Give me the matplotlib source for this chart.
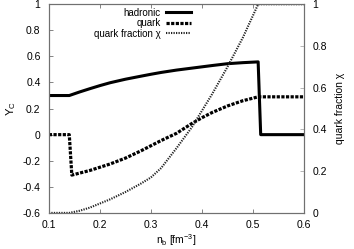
import matplotlib
matplotlib.use('Agg')
import matplotlib.pyplot as plt

plt.rcParams['font.family'] = ['Liberation Sans', 'DejaVu Sans']
plt.rcParams['mathtext.default'] = 'regular'

# hadronic Y_C (left axis)
had_nb = [0.1, 0.14, 0.16, 0.18, 0.2, 0.22, 0.25, 0.28, 0.3, 0.32, 0.35, 0.38,
          0.4, 0.42, 0.45, 0.48, 0.5, 0.51, 0.515, 0.6]
had_yc = [0.3, 0.3, 0.327, 0.352, 0.376, 0.398, 0.425, 0.448, 0.463, 0.477, 0.495,
          0.51, 0.52, 0.53, 0.544, 0.552, 0.556, 0.558, 0.0, 0.0]

# quark Y_C (left axis)
qrk_nb = [0.1, 0.14, 0.145, 0.16, 0.18, 0.2, 0.22, 0.25, 0.28, 0.3, 0.32, 0.35,
          0.38, 0.4, 0.42, 0.45, 0.48, 0.5, 0.51, 0.6]
qrk_yc = [0.0, 0.0, -0.31, -0.295, -0.275, -0.25, -0.225, -0.18, -0.125, -0.085,
          -0.045, 0.01, 0.085, 0.13, 0.17, 0.22, 0.26, 0.28, 0.29, 0.29]

# quark fraction chi (right axis)
chi_nb = [0.1, 0.14, 0.16, 0.18, 0.2, 0.22, 0.25, 0.28, 0.3, 0.32, 0.35, 0.38,
          0.4, 0.42, 0.45, 0.48, 0.51, 0.6]
chi_val = [0.0, 0.0, 0.01, 0.025, 0.045, 0.065, 0.1, 0.14, 0.17, 0.215, 0.31, 0.41,
           0.49, 0.57, 0.7, 0.84, 1.0, 1.0]

xticks = [0.1, 0.2, 0.3, 0.4, 0.5, 0.6]
yticks_left = [-0.6, -0.4, -0.2, 0, 0.2, 0.4, 0.6, 0.8, 1]
yticks_right = [0, 0.2, 0.4, 0.6, 0.8, 1]

axcol = '#707070'

fig = plt.figure(figsize=(3.54, 2.49), dpi=100)
ax = fig.add_axes([0.138, 0.145, 0.721, 0.838])
ax2 = ax.twinx()

l1, = ax.plot(had_nb, had_yc, color='black', lw=2.2, label='hadronic')
l2, = ax.plot(qrk_nb, qrk_yc, color='black', lw=2.3, linestyle=(0, (1.0, 0.45)),
              label='quark')
l3, = ax2.plot(chi_nb, chi_val, color='#222222', lw=1.5, linestyle=(0, (0.6, 0.6)),
               label='quark fraction χ')

ax.set_xlim(0.1, 0.6)
ax.set_ylim(-0.6, 1)
ax2.set_ylim(0, 1)
ax.set_xticks(xticks)
ax.set_xticklabels(['0.1', '0.2', '0.3', '0.4', '0.5', '0.6'])
ax.set_yticks(yticks_left)
ax.set_yticklabels(['-0.6', '-0.4', '-0.2', '0', '0.2', '0.4', '0.6', '0.8', '1'])
ax2.set_yticks(yticks_right)
ax2.set_yticklabels(['0', '0.2', '0.4', '0.6', '0.8', '1'])

ax.tick_params(axis='x', direction='in', top=True, length=3, width=0.6,
               color=axcol, labelsize=7.5, pad=5)
ax.tick_params(axis='y', direction='in', right=False, length=3, width=0.6,
               color=axcol, labelsize=7.5, pad=6)
ax2.tick_params(axis='y', direction='in', length=3, width=0.6,
                color='#aaaaaa', labelsize=7.5, pad=6)

for a in (ax, ax2):
    for s in a.spines.values():
        s.set_color(axcol)
        s.set_linewidth(0.8)

ax.set_xlabel('$n_b$ [fm$^{-3}$]', fontsize=7.5, labelpad=1.5)
ax.set_ylabel('$Y_C$', fontsize=8, labelpad=3)
ax2.set_ylabel('quark fraction χ', fontsize=7.5, labelpad=6)

fig.legend(handles=[l1, l2, l3], loc='upper right', bbox_to_anchor=(0.55, 0.985),
           frameon=False, markerfirst=False, fontsize=7, handlelength=2.6,
           handletextpad=0.5, labelspacing=0.05, borderaxespad=0)

plt.savefig('out.png', dpi=100)
